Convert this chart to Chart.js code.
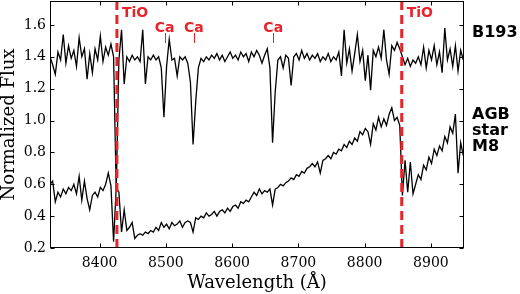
<!DOCTYPE html>
<html>
<head>
<meta charset="utf-8">
<script src="https://cdn.jsdelivr.net/npm/chart.js@4.4.0/dist/chart.umd.min.js"></script>
<style>
  html, body { margin: 0; padding: 0; background: #fff; }
  #wrap { width: 520px; height: 294px; }
</style>
</head>
<body>
<div id="wrap"><canvas id="spectra"></canvas></div>
<script>
// wavelength grid (Angstrom)
const wavelength = [
  8325, 8329, 8333, 8337, 8341, 8345, 8349, 8353, 8357, 8361,
  8365, 8369, 8373, 8377, 8381, 8385, 8389, 8393, 8397, 8401,
  8405, 8409, 8413, 8417, 8421, 8425, 8429, 8433, 8437, 8441,
  8445, 8449, 8453, 8457, 8461, 8465, 8469, 8473, 8477, 8481,
  8485, 8489, 8493, 8497, 8501, 8505, 8509, 8513, 8517, 8521,
  8525, 8529, 8533, 8537, 8541, 8545, 8549, 8553, 8557, 8561,
  8565, 8569, 8573, 8577, 8581, 8585, 8589, 8593, 8597, 8601,
  8605, 8609, 8613, 8617, 8621, 8625, 8629, 8633, 8637, 8641,
  8645, 8649, 8653, 8657, 8661, 8665, 8669, 8673, 8677, 8681,
  8685, 8689, 8693, 8697, 8701, 8705, 8709, 8713, 8717, 8721,
  8725, 8729, 8733, 8737, 8741, 8745, 8749, 8753, 8757, 8761,
  8765, 8769, 8773, 8777, 8781, 8785, 8789, 8793, 8797, 8801,
  8805, 8809, 8813, 8817, 8821, 8825, 8829, 8833, 8837, 8841,
  8845, 8849, 8853, 8857, 8861, 8865, 8869, 8873, 8877, 8881,
  8885, 8889, 8893, 8897, 8901, 8905, 8909, 8913, 8917, 8921,
  8925, 8929, 8933, 8937, 8941, 8945, 8949
];

const fluxB193 = [
  1.40, 1.35, 1.29, 1.43, 1.38, 1.54, 1.36, 1.47, 1.39, 1.44,
  1.34, 1.52, 1.40, 1.45, 1.26, 1.42, 1.30, 1.45, 1.38, 1.53,
  1.37, 1.46, 1.41, 1.48, 1.40, 0.56, 1.38, 1.57, 1.23, 1.40,
  1.37, 1.41, 1.38, 1.40, 1.37, 1.57, 1.23, 1.40, 1.38, 1.41,
  1.38, 1.40, 1.33, 1.02, 1.34, 1.51, 1.38, 1.39, 1.28, 1.40,
  1.38, 1.40, 1.36, 1.24, 0.85, 1.12, 1.33, 1.39, 1.37, 1.40,
  1.38, 1.41, 1.39, 1.42, 1.38, 1.41, 1.37, 1.40, 1.43, 1.39,
  1.41, 1.38, 1.43, 1.40, 1.42, 1.37, 1.43, 1.40, 1.44, 1.41,
  1.36, 1.41, 1.45, 1.33, 0.86, 1.18, 1.38, 1.40, 1.33, 1.41,
  1.39, 1.22, 1.40, 1.42, 1.38, 1.44, 1.39, 1.42, 1.38, 1.41,
  1.39, 1.42, 1.37, 1.40, 1.38, 1.42, 1.37, 1.40, 1.38, 1.43,
  1.28, 1.57, 1.36, 1.45, 1.31, 1.42, 1.54, 1.37, 1.44, 1.25,
  1.41, 1.19, 1.44, 1.40, 1.46, 1.39, 1.57, 1.38, 1.29, 1.47,
  1.44, 1.49, 1.45, 1.40, 1.35, 1.39, 1.34, 1.38, 1.36, 1.40,
  1.35, 1.46, 1.33, 1.44, 1.38, 1.47, 1.35, 1.43, 1.30, 1.58,
  1.38, 1.45, 1.34, 1.47, 1.31, 1.44, 1.38
];

const fluxAGB = [
  0.60, 0.62, 0.49, 0.55, 0.52, 0.57, 0.54, 0.58, 0.56, 0.60,
  0.54, 0.65, 0.50, 0.62, 0.51, 0.44, 0.53, 0.55, 0.52, 0.58,
  0.56, 0.60, 0.67, 0.59, 0.24, 0.58, 0.55, 0.30, 0.44, 0.31,
  0.33, 0.36, 0.26, 0.28, 0.29, 0.28, 0.30, 0.29, 0.31, 0.30,
  0.33, 0.31, 0.36, 0.33, 0.35, 0.32, 0.36, 0.34, 0.35, 0.37,
  0.33, 0.36, 0.37, 0.36, 0.30, 0.39, 0.38, 0.40, 0.39, 0.42,
  0.40, 0.41, 0.43, 0.40, 0.43, 0.44, 0.42, 0.45, 0.43, 0.46,
  0.47, 0.45, 0.49, 0.48, 0.50, 0.49, 0.52, 0.55, 0.53, 0.57,
  0.54, 0.56, 0.55, 0.57, 0.47, 0.57, 0.58, 0.60, 0.59, 0.61,
  0.62, 0.64, 0.63, 0.66, 0.65, 0.68, 0.67, 0.70, 0.71, 0.73,
  0.71, 0.74, 0.67, 0.75, 0.76, 0.78, 0.76, 0.80, 0.79, 0.82,
  0.81, 0.85, 0.83, 0.87, 0.85, 0.89, 0.87, 0.93, 0.91, 0.95,
  0.93, 0.85, 0.98, 0.94, 1.02, 0.96, 1.01, 0.97, 1.04, 1.08,
  1.00, 1.02, 0.97, 0.53, 0.75, 0.55, 0.74, 0.54, 0.60, 0.66,
  0.63, 0.72, 0.69, 0.77, 0.73, 0.82, 0.78, 0.84, 0.81, 0.90,
  0.86, 0.96, 0.92, 1.04, 0.67, 0.86, 0.78
];

const xTicks = [8400, 8500, 8600, 8700, 8800, 8900];
const yTicks = [0.2, 0.4, 0.6, 0.8, 1.0, 1.2, 1.4, 1.6];

// marked features
const lineNames = ["TiO", "Ca", "Ca", "Ca", "TiO"];
const lineWaves = [8426, 8498, 8542, 8662, 8856];

const starNames = ["B193", "AGB", "star", "M8"];

const red = "#e8232a";
const serif = "DejaVu Serif";

const toPoints = (ys) => wavelength.map((w, i) => ({ x: w, y: ys[i] }));

const extras = {
  id: "extras",
  afterDatasetsDraw(chart) {
    const { ctx, chartArea: a } = chart;
    const x = chart.scales.x;
    const y = chart.scales.y;
    const L = Math.round(a.left) + 0.5, R = Math.round(a.right) - 0.5;
    const T = Math.round(a.top) + 0.5, B = Math.round(a.bottom) - 0.5;
    ctx.save();

    // red dashed feature lines
    ctx.strokeStyle = red;
    ctx.lineWidth = 3;
    ctx.setLineDash([9, 5]);
    lineWaves.forEach((w, i) => {
      if (lineNames[i] !== "TiO") return;
      const px = x.getPixelForValue(w);
      ctx.beginPath();
      ctx.moveTo(px, a.top);
      ctx.lineTo(px, a.bottom);
      ctx.stroke();
    });
    ctx.setLineDash([]);

    // frame and inward ticks
    ctx.strokeStyle = "#000";
    ctx.lineWidth = 1;
    ctx.strokeRect(L, T, R - L, B - T);
    ctx.beginPath();
    xTicks.forEach(v => {
      const px = Math.round(x.getPixelForValue(v)) + 0.5;
      ctx.moveTo(px, B); ctx.lineTo(px, B - 4);
      ctx.moveTo(px, T); ctx.lineTo(px, T + 4);
    });
    yTicks.forEach(v => {
      const py = Math.round(y.getPixelForValue(v)) + 0.5;
      ctx.moveTo(L, py); ctx.lineTo(L + 4, py);
      ctx.moveTo(R, py); ctx.lineTo(R - 4, py);
    });
    ctx.stroke();

    // feature labels
    ctx.fillStyle = red;
    ctx.strokeStyle = red;
    ctx.lineWidth = 1;
    ctx.font = "bold 14px 'DejaVu Sans'";
    ctx.textBaseline = "middle";
    lineWaves.forEach((w, i) => {
      const px = x.getPixelForValue(w);
      if (lineNames[i] === "TiO") {
        ctx.textAlign = "left";
        ctx.fillText(lineNames[i], px + 5, a.top + 12);
      } else {
        ctx.textAlign = "center";
        ctx.fillText(lineNames[i], px, a.top + 27);
        ctx.beginPath();
        ctx.moveTo(Math.round(px) + 0.5, a.top + 32);
        ctx.lineTo(Math.round(px) + 0.5, a.top + 42);
        ctx.stroke();
      }
    });

    // star names on the right
    ctx.fillStyle = "#000";
    ctx.font = "bold 16px 'DejaVu Sans'";
    ctx.textAlign = "left";
    const tx = a.right + 8;
    ctx.fillText(starNames[0], tx, a.top + 32);
    ctx.fillText(starNames[1], tx, a.top + 114);
    ctx.fillText(starNames[2], tx, a.top + 130);
    ctx.fillText(starNames[3], tx, a.top + 146);
    ctx.restore();
  }
};

const ctx = document.getElementById("spectra");

const spectraChart = new Chart(ctx, {
  type: "line",
  data: {
    datasets: [
      {
        label: "B193",
        data: toPoints(fluxB193),
        borderColor: "#000",
        borderWidth: 1.3,
        pointRadius: 0,
        tension: 0
      },
      {
        label: "AGB star M8",
        data: toPoints(fluxAGB),
        borderColor: "#000",
        borderWidth: 1.3,
        pointRadius: 0,
        tension: 0
      }
    ]
  },
  options: {
    responsive: true,
    maintainAspectRatio: false,
    animation: false,
    layout: {
      padding: { left: 0, right: 56, top: 1, bottom: 0 }
    },
    plugins: {
      legend: { display: false },
      tooltip: { enabled: false }
    },
    scales: {
      x: {
        type: "linear",
        min: 8325,
        max: 8950,
        afterBuildTicks: scale => { scale.ticks = xTicks.map(v => ({ value: v })); },
        afterFit: scale => {
          scale.height = 46;
          scale.paddingLeft = 0;
          scale.paddingRight = 0;
        },
        grid: { display: false, drawTicks: false },
        border: { display: false },
        ticks: {
          color: "#000",
          padding: 7,
          maxRotation: 0,
          font: { family: serif, size: 14 },
          callback: v => String(v)
        },
        title: {
          display: true,
          text: "Wavelength (Å)",
          color: "#000",
          padding: { top: 0, bottom: 0 },
          font: { family: serif, size: 18, lineHeight: 1.2 }
        }
      },
      y: {
        min: 0.2,
        max: 1.75,
        afterBuildTicks: scale => { scale.ticks = yTicks.map(v => ({ value: v })); },
        afterFit: scale => {
          scale.width = 50;
          scale.paddingTop = 0;
          scale.paddingBottom = 0;
        },
        grid: { display: false, drawTicks: false },
        border: { display: false },
        ticks: {
          color: "#000",
          padding: 4,
          font: { family: serif, size: 14 },
          callback: v => v.toFixed(1)
        },
        title: {
          display: true,
          text: "Normalized Flux",
          color: "#000",
          padding: { top: 0, bottom: 0 },
          font: { family: serif, size: 18, lineHeight: 1.0 }
        }
      }
    }
  },
  plugins: [extras]
});
</script>
</body>
</html>
